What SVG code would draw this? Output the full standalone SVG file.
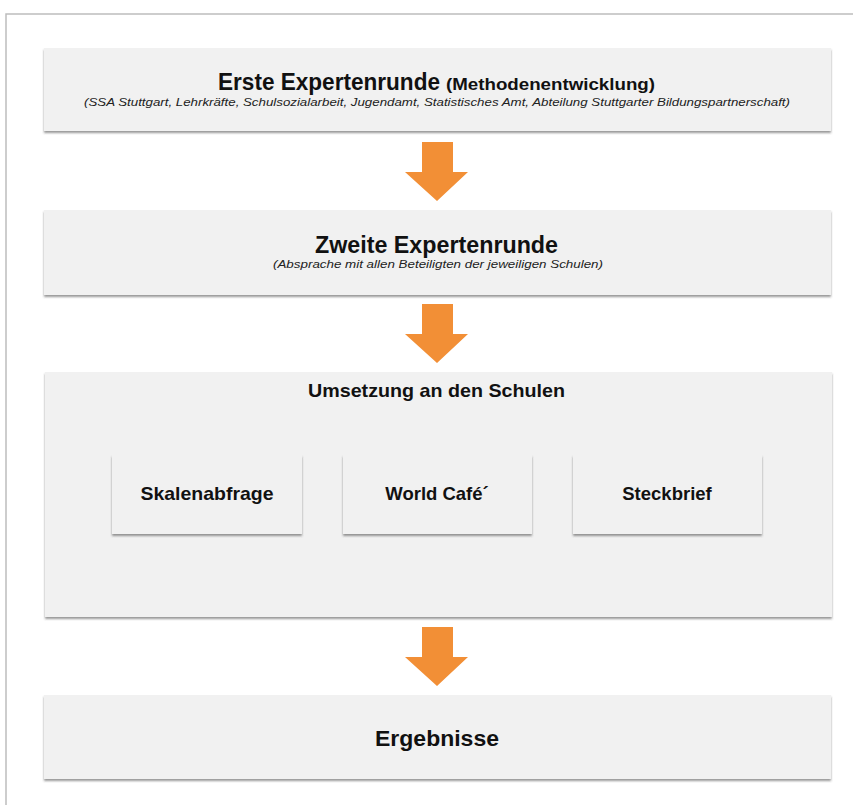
<svg xmlns="http://www.w3.org/2000/svg" width="853" height="805" viewBox="0 0 853 805">
<style>
.box{fill:#f1f1f1;filter:url(#sh)}
.arrow{fill:#f28f36}
.t{font-family:"Liberation Sans",Arial,sans-serif;font-weight:bold;fill:#111}
.s{font-family:"Liberation Sans",Arial,sans-serif;font-style:italic;fill:#222;font-size:10.5px}
</style>
<defs>
<filter id="sh" x="-5%" y="-10%" width="110%" height="125%">
<feDropShadow dx="0" dy="2" stdDeviation="1.2" flood-color="#444" flood-opacity="0.55"/>
</filter>
</defs>
<rect width="853" height="805" fill="#fff"/>
<path d="M6,805 V14 H853" fill="none" stroke="#bdbdbd" stroke-width="1.5"/>
<g id="n1">
<rect class="box" x="44" y="48" width="787" height="83"/>
<text class="t" x="218" y="90" font-size="23" textLength="222" lengthAdjust="spacingAndGlyphs">Erste Expertenrunde</text>
<text class="t" x="446" y="90" font-size="16" textLength="209" lengthAdjust="spacingAndGlyphs">(Methodenentwicklung)</text>
<text class="s" x="84" y="106" textLength="706" lengthAdjust="spacingAndGlyphs">(SSA Stuttgart, Lehrkräfte, Schulsozialarbeit, Jugendamt, Statistisches Amt, Abteilung Stuttgarter Bildungspartnerschaft)</text>
</g>
<g id="n2">
<rect class="box" x="44" y="210" width="787" height="85"/>
<text class="t" x="315" y="253" font-size="23" textLength="243" lengthAdjust="spacingAndGlyphs">Zweite Expertenrunde</text>
<text class="s" x="273" y="268" textLength="330" lengthAdjust="spacingAndGlyphs">(Absprache mit allen Beteiligten der jeweiligen Schulen)</text>
</g>
<g id="n3">
<rect class="box" x="45" y="372" width="787" height="245"/>
<text class="t" x="308" y="397" font-size="18.5" textLength="257" lengthAdjust="spacingAndGlyphs">Umsetzung an den Schulen</text>
</g>
<g id="n3a">
<rect class="box" x="112" y="455" width="190" height="79"/>
<text class="t" x="207" y="500" font-size="18.5" text-anchor="middle" textLength="133" lengthAdjust="spacingAndGlyphs">Skalenabfrage</text>
</g>
<g id="n3b">
<rect class="box" x="343" y="455" width="189" height="79"/>
<text class="t" x="437" y="500" font-size="18.5" text-anchor="middle">World Café´</text>
</g>
<g id="n3c">
<rect class="box" x="573" y="455" width="189" height="79"/>
<text class="t" x="667" y="500" font-size="18.5" text-anchor="middle">Steckbrief</text>
</g>
<g id="n4">
<rect class="box" x="44" y="695" width="787" height="84"/>
<text class="t" x="437" y="746" font-size="22" text-anchor="middle" textLength="124" lengthAdjust="spacingAndGlyphs">Ergebnisse</text>
</g>
<g id="connectors">
<polygon class="arrow" points="422,142 453,142 453,172 468,172 437,201 405,172 422,172"/>
<polygon class="arrow" points="422,304 453,304 453,334 468,334 437,363 405,334 422,334"/>
<polygon class="arrow" points="422,627 453,627 453,657 468,657 437,686 405,657 422,657"/>
</g>
</svg>
